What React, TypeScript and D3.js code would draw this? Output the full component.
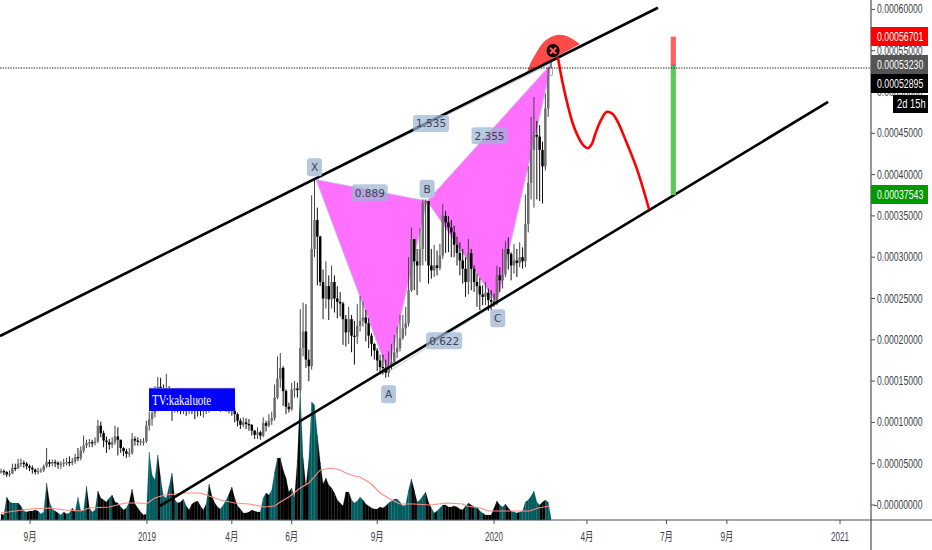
import React from "react";
import * as d3 from "d3";

const closes = [
4.1,4.0,3.7,3.8,4.5,4.4,5.0,5.1,5.0,4.7,
4.5,4.3,4.0,4.1,4.2,4.7,5.2,5.0,5.2,5.1,
4.9,5.0,5.1,5.2,5.1,5.3,5.8,5.7,6.6,7.2,
7.5,7.6,7.5,7.7,9.6,8.7,7.8,7.6,7.3,7.6,
8.3,7.9,6.9,6.5,6.2,6.3,8.0,7.8,7.7,7.7,
7.7,9.6,10.4,11.1,12.3,14.3,14.0,13.0,14.0,13.2,
12.6,12.7,12.4,12.2,12.3,12.1,12.2,12.0,11.9,11.6,
11.5,11.6,11.7,12.0,12.2,12.4,12.1,12.0,12.2,12.0,
11.7,11.4,11.0,10.2,9.7,10.0,9.8,9.7,9.0,8.5,
8.8,8.4,9.9,9.6,10.2,10.5,13.0,15.3,16.6,13.8,
11.9,11.6,14.0,14.1,13.9,19.0,21.0,17.6,16.8,31.0,
34.5,32.5,27.0,25.0,26.5,24.9,27.0,25.0,24.6,24.4,
22.5,20.9,22.5,20.5,20.4,21.7,22.3,22.7,22.0,20.5,
19.5,18.7,17.5,16.7,16.6,16.0,16.9,17.3,18.5,19.0,
20.2,21.4,22.0,26.0,32.2,29.5,29.0,31.0,36.5,36.8,
29.0,28.4,29.0,28.7,30.2,35.0,34.2,33.6,33.0,31.5,
30.5,29.6,28.6,27.0,30.5,28.6,27.0,26.5,25.5,25.2,
25.7,24.8,24.6,24.4,27.8,27.2,27.9,31.0,30.4,29.0,
29.6,29.3,30.0,29.5,34.0,39.0,43.0,44.8,44.6,43.0,
41.0,48.0,52.0,52.9];

const highs = [
4.4,4.3,4.1,4.2,5.0,5.0,5.6,5.6,5.4,5.2,
4.9,4.8,4.4,4.5,4.5,4.9,6.9,5.5,5.5,5.5,
5.3,5.3,5.6,5.7,5.9,5.7,6.2,6.9,7.1,8.4,
7.9,8.0,7.9,8.2,10.3,10.1,9.0,8.3,8.0,8.2,
9.6,9.4,7.6,7.0,6.8,6.9,8.7,8.3,8.2,8.0,
8.1,10.2,11.3,12.5,14.4,15.5,15.4,14.6,15.9,14.4,
13.6,13.2,13.0,12.8,12.9,12.7,12.8,12.6,12.5,12.3,
12.1,12.2,12.3,12.6,12.8,13.0,12.7,12.6,12.8,12.6,
12.3,12.1,11.8,11.2,10.5,10.6,10.5,10.4,9.8,9.1,
9.4,9.0,10.6,10.2,11.0,11.3,14.6,18.0,18.4,16.8,
14.0,12.4,14.8,15.0,14.8,23.7,24.5,24.3,18.8,37.5,
39.4,36.0,32.6,28.5,29.5,27.8,29.0,27.8,26.5,25.8,
24.6,23.0,24.0,23.0,22.3,24.3,25.3,24.6,23.6,22.6,
20.8,19.6,19.0,18.2,18.2,17.6,18.6,19.5,20.6,21.6,
23.0,23.0,24.0,30.0,33.6,32.0,31.0,33.5,37.0,37.0,
36.0,31.0,31.5,30.8,31.6,36.4,35.6,35.0,34.5,33.8,
32.5,31.8,31.0,30.0,32.2,31.0,29.0,28.0,27.5,26.6,
27.0,26.2,26.0,25.6,29.0,28.8,31.0,32.0,32.4,30.6,
31.6,31.0,31.8,31.2,37.6,41.0,47.0,49.4,46.5,46.0,
44.0,49.8,53.0,53.6];

const lows = [
3.8,3.6,3.4,3.4,3.9,4.1,4.4,4.6,4.5,4.3,
4.1,3.8,3.7,3.7,3.9,4.0,4.5,4.6,4.7,4.6,
4.4,4.4,4.6,4.8,4.7,4.8,5.0,5.3,5.4,6.3,
6.9,7.0,7.0,7.2,7.5,8.2,7.0,6.3,6.7,6.9,
7.3,6.0,6.3,5.9,5.7,5.8,6.1,7.2,7.2,7.2,
7.2,7.5,9.0,9.6,10.6,12.2,12.4,11.8,12.0,11.4,
10.2,11.2,11.2,11.0,11.0,10.8,11.0,11.0,10.4,10.7,
10.8,10.6,11.0,11.2,11.5,11.6,11.4,11.3,11.4,11.3,
11.1,10.8,10.0,9.5,9.2,9.4,9.2,9.0,8.4,8.0,
8.0,7.9,8.2,8.9,9.4,9.7,10.2,12.8,14.2,12.0,
11.0,11.2,11.4,13.0,13.0,13.6,18.0,16.6,15.0,16.4,
30.0,26.6,26.5,22.5,23.8,22.4,23.8,23.3,22.6,22.8,
19.4,19.2,19.5,18.5,17.0,19.5,21.0,21.6,19.8,19.0,
18.0,17.6,16.2,15.8,15.8,15.4,15.5,16.4,17.0,17.8,
18.6,20.0,20.5,21.6,25.8,26.0,25.4,27.0,29.0,29.5,
26.8,27.4,27.6,27.8,28.4,29.8,30.5,30.6,30.0,30.0,
29.0,27.8,26.8,25.2,25.5,26.0,25.8,24.0,23.6,24.2,
24.2,23.5,23.6,24.0,24.2,25.8,26.2,27.6,28.5,27.2,
28.0,27.6,28.8,28.6,28.8,33.0,37.0,36.0,37.0,36.8,
36.5,40.5,47.0,52.3];

const volumes = [
6,5,23,18,17,17,17,14,9,8,
9,9,10,9,6,8,37,18,11,9,
7,5,8,6,7,12,8,23,9,10,
34,12,8,10,29,22,20,18,22,25,
18,17,13,10,12,18,31,16,12,8,
5,6,68,45,40,65,42,24,22,34,
47,20,17,18,21,14,10,16,18,19,
14,10,16,36,24,17,13,11,15,20,
26,33,22,14,11,7,7,8,10,9,
8,8,22,27,25,30,48,62,62,50,
42,28,32,22,60,128,62,33,60,118,
115,85,58,36,42,35,32,27,20,17,
14,28,28,20,17,19,23,20,16,14,
12,11,11,13,12,14,17,19,21,21,
18,14,15,30,41,30,18,20,24,28,
18,12,7,9,12,15,15,13,13,14,
13,11,10,14,17,15,13,13,9,7,
5,5,5,12,19,15,13,16,12,9,
8,7,8,9,18,20,24,29,18,15,
18,20,18,2];

const blackVolumeIdx = [
0,2,6,9,10,11,12,16,19,22,25,30,34,35,36,37,39,40,41,42,43,45,46,47,48,49,50,55,60,62,63,65,66,67,68,69,70,71,73,74,75,76,
80,81,82,83,84,85,86,87,88,89,90,93,97,98,99,100,101,103,104,106,107,111,112,113,114,115,116,117,118,119,120,121,122,
127,128,129,130,131,132,133,134,135,144,145,149,150,152,155,156,157,158,159,160,161,162,164,165,167,169,170,171,172,173,
174,177,178,181,189,190];

const maIdx = [0,10,17,22.5,28,31,38,43.5,49,51,54,57.5,61,64.5,70,72,77,82,87,92.5,96,98,101,105,108,112,116,119,121,124,126,129.5,131,133,136.5,140,145,150.5,156.5,162,163.5,168,171,180,185.5,188.5,192.5];
const maVal = [7,11,12,10,9,12,13,17,17,16,22,25,26,27,27,25,20,17,16,13,14,18,23,32,37,50,52,50,47,44,43,37,33,27,21,16,16,15,17,16,14,12,9,9,9,12,14];

const priceTicks = [0,5,10,15,20,25,30,35,40,45,50,55,60];
const priceTickLabels = ["-0.00000000","0.00005000","0.00010000","0.00015000","0.00020000","0.00025000","0.00030000","0.00035000","0.00040000","0.00045000","0.00050000","0.00055000","0.00060000"];
const timeTickIdx = [10.2,51.2,81,102,132,173,205.6,233.5,254.7,294.4];
const timeTickLabels = ["9月","2019","4月","6月","9月","2020","4月","7月","9月","2021"];

const upperChannel: [number, number][] = [[-0.35,20.46],[230.5,60.2]];
const lowerChannel: [number, number][] = [[55.8,-0.1],[290.2,48.8]];
const xPoint: [number, number] = [110.5,39.4];
const aPoint: [number, number] = [135.8,16.1];
const bPoint: [number, number] = [149.5,36.8];
const cPoint: [number, number] = [174,24.4];
const dPoint: [number, number] = [193.3,53.5];
const forecast: [number, number][] = [[195.4,54.2],[197,51.2],[199,48.2],[200.7,46.1],[202.5,44.6],[204.2,43.6],[206,43.2],[207.3,43.7],[208.4,44.8],[210.5,46.6],[212.6,47.6],[214.4,47.4],[216.1,46.6],[219.6,43.8],[223.2,40.6],[227.4,35.8]];
const arc: [number, number][] = [[184.6,52.3],[185.8,53.5],[187.4,54.5],[190.9,56.2],[195.1,56.9],[199,56.7],[203.2,55.8]];
const targetIdx = [235,236.8];
const targetLevels = [56.7,53.23,37.54];
const tagValues = ["0.00056701","0.00053230","0.00052895","0.00037543"];
const ratioLabels = [
  {t:"0.889",i:129.4,p:37.8},{t:"1.535",i:150.9,p:46.2},{t:"2.355",i:171.4,p:44.7},{t:"0.622",i:155.5,p:19.9},
];
const letterLabels = [
  {t:"X",i:110,p:40.9},{t:"A",i:136,p:13.4},{t:"B",i:149.5,p:38.3},{t:"C",i:174.3,p:22.6},
];

const x = d3.scaleLinear().domain([0,1]).range([1,3.85]);
const y = d3.scaleLinear().domain([0,60]).range([505,9.4]);
const yv = d3.scaleLinear().domain([0,130]).range([520,390]);
const pt = d3.line<[number,number]>().x(d=>x(d[0])).y(d=>y(d[1]));
const AXIS = "#4a4e5c";
const SANS = "'Liberation Sans', Arial, 'Noto Sans CJK SC', sans-serif";

function Narrow({px,py,sx=0.73,fill,children}:{px:number;py:number;sx?:number;fill:string;children:React.ReactNode}){
  return <text transform={`translate(${px},${py}) scale(${sx},1)`} fontSize={12} fill={fill} fontFamily={SANS}>{children}</text>;
}

function Tag({y0,h,fill,text,x0=871,w=57}:{y0:number;h:number;fill:string;text:string;x0?:number;w?:number}){
  return <g>
    <rect x={x0} y={y0} width={w} height={h} fill={fill}/>
    <Narrow px={x0===871?877:x0+4} py={y0+h/2+4} fill="#fff" sx={x0===871?0.73:0.78}>{text}</Narrow>
  </g>;
}

export default function App(){
  const black = new Set(blackVolumeIdx);
  const volShapes = volumes.slice(0,-1).map((v,i)=>{
    const seg = d3.area<number>().x((_,k)=>x(i+k)).y0(yv(0)).y1(d=>yv(d));
    const col = black.has(i)?"#000":"#005c5e";
    return <path key={i} d={seg([v,volumes[i+1]])!} fill={col} stroke={col} strokeWidth={0.2}/>;
  });
  const ma = d3.line<number>().x((_,k)=>x(maIdx[k])).y(d=>yv(d));
  const curve = d3.line<[number,number]>().x(d=>x(d[0])).y(d=>y(d[1])).curve(d3.curveCatmullRom);
  const arcClosed = curve(arc)+"Z";
  const tri = (a:[number,number],b:[number,number],c:[number,number]) => pt([a,b,c])+"Z";
  return (
    <svg width={932} height={550} style={{position:"fixed",left:0,top:0,background:"#fff"}}>
      <defs>
        <filter id="soft" x="-2%" y="-2%" width="104%" height="104%"><feGaussianBlur stdDeviation="0.35"/></filter>
      </defs>
      <g filter="url(#soft)">{volShapes}</g>
      <path d={ma(maVal)!} fill="none" stroke="#ff8a80" strokeWidth={1.1}/>
      <path d={tri(xPoint,aPoint,bPoint)} fill="#ff70ff" stroke="#bcc9e0" strokeWidth={0.8}/>
      <path d={tri(bPoint,cPoint,dPoint)} fill="#ff70ff" stroke="#bcc9e0" strokeWidth={0.8}/>
      <path d={pt([aPoint,cPoint])!} stroke="#bcc9e0" strokeWidth={1} fill="none"/>
      <path d={pt([xPoint,dPoint])!} stroke="#bcc9e0" strokeWidth={1} fill="none"/>
      <g filter="url(#soft)">
        {closes.map((c,i)=>{
          const o = i===0?c:closes[i-1];
          const up = c>=o;
          const top = y(Math.max(o,c)), bot = y(Math.min(o,c));
          const last = i===closes.length-1;
          return <g key={i}>
            <line x1={x(i)} x2={x(i)} y1={y(Math.max(highs[i],o,c))} y2={y(Math.min(lows[i],o,c))} stroke={up?"#444":"#111"} strokeWidth={1}/>
            <rect x={x(i)-1.25} width={2.5} y={top} height={Math.max(bot-top,1.2)} fill={last?"#fff":up?"#6e6e6e":"#000"} stroke={last?"#777":"none"} strokeWidth={0.6}/>
          </g>;
        })}
      </g>
      <path d={arcClosed} fill="#ff4a4a" stroke="none"/>
      <path d={pt(upperChannel)!} stroke="#000" strokeWidth={2.6} fill="none"/>
      <path d={pt(lowerChannel)!} stroke="#000" strokeWidth={2.6} fill="none"/>
      <path d={curve(forecast)!} fill="none" stroke="#f00" strokeWidth={2.6}/>
      <rect x={x(targetIdx[0])} width={x(targetIdx[1])-x(targetIdx[0])} y={y(targetLevels[0])} height={y(targetLevels[1])-y(targetLevels[0])} fill="#ff6060"/>
      <rect x={x(targetIdx[0])} width={x(targetIdx[1])-x(targetIdx[0])} y={y(targetLevels[1])} height={y(targetLevels[2])-y(targetLevels[1])} fill="#5cc85c"/>
      <line x1={x(targetIdx[0])} x2={x(targetIdx[1])} y1={y(targetLevels[1])} y2={y(targetLevels[1])} stroke="#667" strokeWidth={1}/>
      <g transform={`translate(${x(193.7)},${y(55)})`}>
        <circle r={5.5} fill="#300" stroke="#000" strokeWidth={2.2}/>
        <path d="M-3,-3L3,3M3,-3L-3,3" stroke="#ff5a5a" strokeWidth={2}/>
      </g>
      {ratioLabels.map(l=><g key={l.t}>
        <rect x={x(l.i)-18} y={y(l.p)-8.5} width={36} height={17} rx={3} fill="#9db5d4" fillOpacity={0.72}/>
        <text x={x(l.i)} y={y(l.p)+4} textAnchor="middle" fontSize={10.5} fill="#3d4250" fontFamily="'DejaVu Sans',sans-serif">{l.t}</text>
      </g>)}
      {letterLabels.map(l=><g key={l.t}>
        <rect x={x(l.i)-7.5} y={y(l.p)-9} width={15} height={18} rx={3} fill="#b5c6dd"/>
        <text x={x(l.i)} y={y(l.p)+4} textAnchor="middle" fontSize={10.5} fill="#3d4250" fontFamily="'DejaVu Sans',sans-serif">{l.t}</text>
      </g>)}
      <rect x={149} y={388} width={86} height={23} fill="#0000ff"/>
      <line x1={149} x2={235} y1={388.3} y2={388.3} stroke="#8a6fd0" strokeWidth={0.8}/>
      <text transform="translate(152,405) scale(0.78,1)" fill="#fff" fontSize={14} fontFamily="'Liberation Serif',serif">TV:kakaluote</text>
      <line x1={0} x2={871} y1={y(52.9)} y2={y(52.9)} stroke="#111" strokeWidth={1} strokeDasharray="1.3 1.3"/>
      <line x1={0} x2={932} y1={520} y2={520} stroke={AXIS} strokeWidth={1.2}/>
      <line x1={871} x2={871} y1={0} y2={550} stroke={AXIS} strokeWidth={1.2}/>
      {priceTicks.map((p,k)=><g key={p}>
        <line x1={871} x2={875} y1={y(p)} y2={y(p)} stroke={AXIS}/>
        <Narrow px={k===0?874:877} py={y(p)+4} fill="#3c3f48" sx={0.72}>{priceTickLabels[k]}</Narrow>
      </g>)}
      {timeTickIdx.map((t,k)=><g key={k}>
        <line x1={x(t)} x2={x(t)} y1={520} y2={524} stroke={AXIS}/>
        <text x={x(t)} y={541} textAnchor="middle" fontSize={12} fill="#3c3f48" fontFamily={SANS} textLength={k===1||k===5||k===9?18:13} lengthAdjust="spacingAndGlyphs">{timeTickLabels[k]}</text>
      </g>)}
      <Tag y0={27} h={19} fill="#ff0000" text={tagValues[0]}/>
      <Tag y0={55} h={19} fill="#555555" text={tagValues[1]}/>
      <Tag y0={74} h={19} fill="#000000" text={tagValues[2]}/>
      <Tag y0={95} h={18} fill="#000000" text="2d 15h" x0={893} w={35}/>
      <Tag y0={185} h={19} fill="#009900" text={tagValues[3]}/>
    </svg>
  );
}
